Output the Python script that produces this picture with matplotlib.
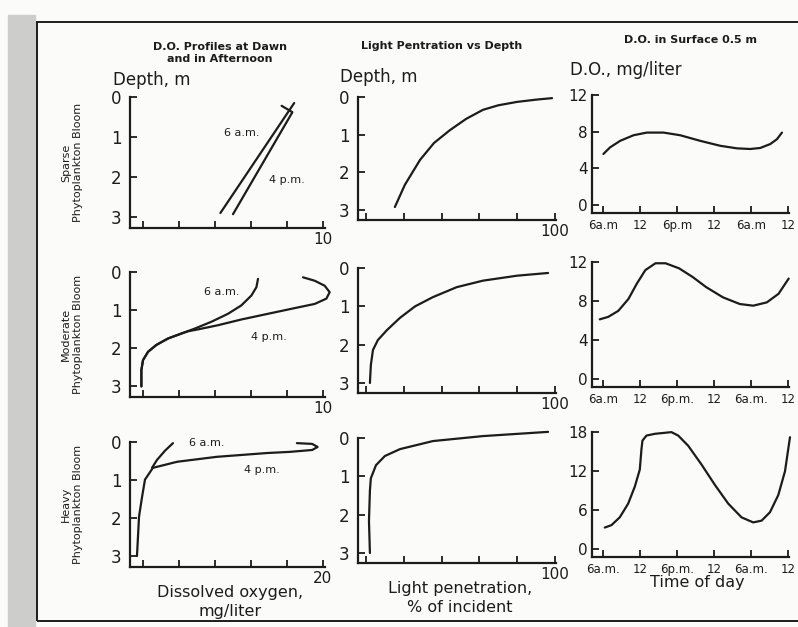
#!/usr/bin/env python3
"""
Dissolved oxygen / light penetration profiles for three phytoplankton bloom levels
"""

import matplotlib
matplotlib.use('Agg')
import matplotlib.pyplot as plt
from matplotlib.patches import Rectangle

W, H = 798, 627

# ---- data ----
rows = ['Sparse\nPhytoplankton Bloom', 'Moderate\nPhytoplankton Bloom', 'Heavy\nPhytoplankton Bloom']

# D.O. profiles (mg/liter, depth m)
sparse_6am_do = [4.3, 8.4]
sparse_6am_depth = [2.9, 0.15]
sparse_4pm_do = [5.0, 8.3, 7.7]
sparse_4pm_depth = [2.93, 0.38, 0.22]

moderate_6am_do = [6.39, 6.30, 6.02, 5.46, 4.72, 3.80, 2.87, 2.13, 1.39, 0.74, 0.28, 0.0, -0.09, -0.09]
moderate_6am_depth = [0.18, 0.40, 0.62, 0.88, 1.10, 1.31, 1.49, 1.62, 1.75, 1.92, 2.10, 2.32, 2.58, 3.01]
moderate_4pm_do = [8.89, 9.54, 10.09, 10.37, 10.19, 9.54, 8.43, 6.94, 5.46, 4.17, 3.06, 2.5,
                   2.13, 1.39, 0.74, 0.28, 0.0, -0.09, -0.09]
moderate_4pm_depth = [0.14, 0.23, 0.36, 0.53, 0.70, 0.84, 0.95, 1.10, 1.25, 1.40, 1.51, 1.56,
                      1.62, 1.75, 1.92, 2.10, 2.32, 2.58, 3.01]

heavy_6am_do = [3.33, 2.44, 1.56, 1.0]
heavy_6am_depth = [0.03, 0.23, 0.47, 0.68]
heavy_4pm_do = [17.1, 18.8, 19.4, 18.8, 16.3, 13.8, 8.2, 3.8, 1.1, 0.22, -0.1, -0.44, -0.67]
heavy_4pm_depth = [0.03, 0.05, 0.13, 0.21, 0.26, 0.29, 0.39, 0.52, 0.68, 0.99, 1.44, 1.96, 3.0]

# light penetration (% of incident, depth m)
sparse_light = [15.3, 20.6, 28.6, 36.0, 44.4, 53.0, 61.9, 70.0, 79.9, 90.0, 98.4]
sparse_light_depth = [2.92, 2.33, 1.67, 1.22, 0.88, 0.58, 0.34, 0.22, 0.13, 0.07, 0.03]
moderate_light = [2.1, 2.6, 3.7, 6.3, 11.1, 18.0, 26.0, 35.4, 48.0, 61.9, 80.0, 96.3]
moderate_light_depth = [3.0, 2.53, 2.14, 1.88, 1.62, 1.3, 1.0, 0.76, 0.5, 0.33, 0.2, 0.13]
heavy_light = [2.1, 1.6, 2.1, 2.6, 5.3, 10.0, 18.0, 35.4, 61.9, 96.3]
heavy_light_depth = [3.0, 2.16, 1.37, 1.05, 0.71, 0.47, 0.29, 0.08, -0.05, -0.16]

# surface D.O. over time (hour from midnight of day 1, mg/liter)
sparse_hours = [6.05, 7.13, 8.76, 10.92, 13.08, 15.78, 18.48, 21.72, 24.96, 27.67, 29.82,
                31.44, 33.07, 34.15, 34.96]
sparse_surface = [5.57, 6.29, 7.0, 7.61, 7.90, 7.90, 7.61, 7.0, 6.46, 6.18, 6.11,
                  6.22, 6.65, 7.18, 7.90]
moderate_hours = [5.46, 6.82, 8.46, 10.10, 11.46, 12.84, 14.48, 16.11, 18.30, 20.48, 22.67,
                  25.39, 28.13, 30.31, 32.51, 34.41, 36.05]
moderate_surface = [6.12, 6.37, 6.99, 8.21, 9.78, 11.17, 11.87, 11.87, 11.35, 10.47, 9.43,
                    8.38, 7.69, 7.52, 7.86, 8.74, 10.30]
heavy_hours = [6.27, 7.35, 8.70, 10.05, 11.13, 11.94, 12.21, 12.37, 13.02, 14.37, 17.07, 18.16,
               19.78, 21.93, 24.10, 26.26, 28.41, 30.31, 31.66, 33.02, 34.36, 35.45, 36.26]
heavy_surface = [3.30, 3.67, 4.88, 6.97, 9.59, 12.22, 15.36, 16.67, 17.45, 17.72, 17.98, 17.45,
                 15.88, 13.0, 9.86, 6.98, 4.87, 4.09, 4.36, 5.66, 8.29, 11.95, 17.2]

time_ticks = [6, 12, 18, 24, 30, 36]
time_labels = [
    ['6a.m', '12', '6p.m', '12', '6a.m', '12'],
    ['6a.m', '12', '6p.m.', '12', '6a.m.', '12'],
    ['6a.m.', '12', '6p.m.', '12', '6a.m.', '12'],
]

INK = '#1c1c1c'


def add_px_axes(fig, left, top, right, bottom):
    return fig.add_axes([left / W, 1 - bottom / H, (right - left) / W, (bottom - top) / H])


def style(ax):
    ax.patch.set_alpha(0)
    for s in ['top', 'right']:
        ax.spines[s].set_visible(False)
    for s in ['left', 'bottom']:
        ax.spines[s].set_linewidth(1.6)
        ax.spines[s].set_color(INK)
    ax.tick_params(direction='in', length=5, width=1.3, colors=INK, labelcolor=INK)


def depth_axes(ax, xmax, xticks, ymax):
    style(ax)
    ax.set_ylim(ymax, 0)
    ax.set_yticks([0, 1, 2, 3])
    ax.tick_params(axis='y', labelsize=12, pad=6)
    ax.set_xticks(xticks)
    ax.set_xticklabels([''] * (len(xticks) - 1) + [str(xmax)])
    ax.tick_params(axis='x', labelsize=11, pad=3)


fig = plt.figure(figsize=(W / 100, H / 100), dpi=100)
fig.patch.set_facecolor('#fbfbf9')

# scanned page edge + frame
fig.add_artist(Rectangle((8 / W, 0), 27 / W, 1 - 15 / H, transform=fig.transFigure,
                         color='#cdcdcb', zorder=0))
fig.add_artist(Rectangle((37 / W, 1 - 621 / H), 1.0, (621 - 22) / H, transform=fig.transFigure,
                         fill=False, edgecolor=INK, linewidth=1.4, zorder=1))

kw = dict(color=INK, linewidth=1.6, clip_on=False, solid_joinstyle='round', solid_capstyle='round')
lab = dict(fontsize=8, color=INK)

# ---- column 1: D.O. profiles ----
row_px = [(97, 228), (272, 397), (442, 567)]
do_data = [
    (sparse_6am_do, sparse_6am_depth, sparse_4pm_do, sparse_4pm_depth, 10),
    (moderate_6am_do, moderate_6am_depth, moderate_4pm_do, moderate_4pm_depth, 10),
    (heavy_6am_do, heavy_6am_depth, heavy_4pm_do, heavy_4pm_depth, 20),
]
label_pos = [((5.5, 0.9), (8.0, 2.08)), ((4.4, 0.52), (7.0, 1.7)), ((7.1, 0.03), (13.2, 0.73))]
for i, (top, bottom) in enumerate(row_px):
    x6, y6, x4, y4, xmax = do_data[i]
    ax = add_px_axes(fig, 130, top, 325, bottom)
    per = 18.0 * 10 / xmax
    ax.set_xlim(-13 / per, xmax + 2 / per)
    depth_axes(ax, xmax, [xmax * k / 5 for k in range(6)], 3 * (bottom - top) / (bottom - top - 11))
    ax.plot(x6, y6, **kw)
    ax.plot(x4, y4, **kw)
    ax.text(*label_pos[i][0], '6 a.m.', ha='center', va='center', **lab)
    ax.text(*label_pos[i][1], '4 p.m.', ha='center', va='center', **lab)
    fig.text(72 / W, 1 - (top + bottom) / 2 / H, rows[i], rotation=90, ha='center', va='center',
             fontsize=8, color=INK, linespacing=1.3)

# ---- column 2: light penetration ----
row_px2 = [(97, 220), (268, 393), (438, 563)]
light_data = [
    (sparse_light, sparse_light_depth),
    (moderate_light, moderate_light_depth),
    (heavy_light, heavy_light_depth),
]
for i, (top, bottom) in enumerate(row_px2):
    ax = add_px_axes(fig, 358, top, 556, bottom)
    ax.set_xlim(-4.2, 100.5)
    depth_axes(ax, 100, [0, 20, 40, 60, 80, 100], 3 * (bottom - top) / (bottom - top - 10))
    ax.plot(*light_data[i], **kw)

# ---- column 3: surface D.O. ----
row_px3 = [(95, 213, 12, [0, 4, 8, 12]), (262, 387, 12, [0, 4, 8, 12]), (432, 557, 18, [0, 6, 12, 18])]
surf_data = [
    (sparse_hours, sparse_surface),
    (moderate_hours, moderate_surface),
    (heavy_hours, heavy_surface),
]
for i, (top, bottom, ymax, yt) in enumerate(row_px3):
    ax = add_px_axes(fig, 592, top, 789, bottom)
    style(ax)
    ax.set_xlim(4.2, 36.1)
    per = (bottom - top - 8) / ymax
    ax.set_ylim(-(bottom - top) / per + ymax, ymax)
    ax.set_yticks(yt)
    ax.tick_params(axis='y', labelsize=11, pad=3)
    ax.set_xticks(time_ticks)
    ax.set_xticklabels(time_labels[i])
    ax.tick_params(axis='x', labelsize=8.5, pad=4)
    ax.plot(*surf_data[i], **kw)

# ---- titles and axis captions ----
fig.text(220 / W, 1 - 53 / H, 'D.O. Profiles at Dawn\nand in Afternoon', ha='center', va='center',
         fontsize=8, fontweight='bold', color=INK, linespacing=1.15)
fig.text(442 / W, 1 - 46 / H, 'Light Pentration vs Depth', ha='center', va='center',
         fontsize=8, fontweight='bold', color=INK)
fig.text(690 / W, 1 - 40 / H, 'D.O. in Surface 0.5 m', ha='center', va='center',
         fontsize=8, fontweight='bold', color=INK)

fig.text(113 / W, 1 - 80 / H, 'Depth, m', ha='left', va='center', fontsize=12, color=INK)
fig.text(340 / W, 1 - 77 / H, 'Depth, m', ha='left', va='center', fontsize=12, color=INK)
fig.text(570 / W, 1 - 70 / H, 'D.O., mg/liter', ha='left', va='center', fontsize=12, color=INK)

fig.text(230 / W, 1 - 602 / H, 'Dissolved oxygen,\nmg/liter', ha='center', va='center',
         fontsize=11.5, color=INK, linespacing=1.3)
fig.text(460 / W, 1 - 598 / H, 'Light penetration,\n% of incident', ha='center', va='center',
         fontsize=11.5, color=INK, linespacing=1.3)
fig.text(697 / W, 1 - 582 / H, 'Time of day', ha='center', va='center', fontsize=11.5, color=INK)

plt.savefig('out.png', dpi=100)
